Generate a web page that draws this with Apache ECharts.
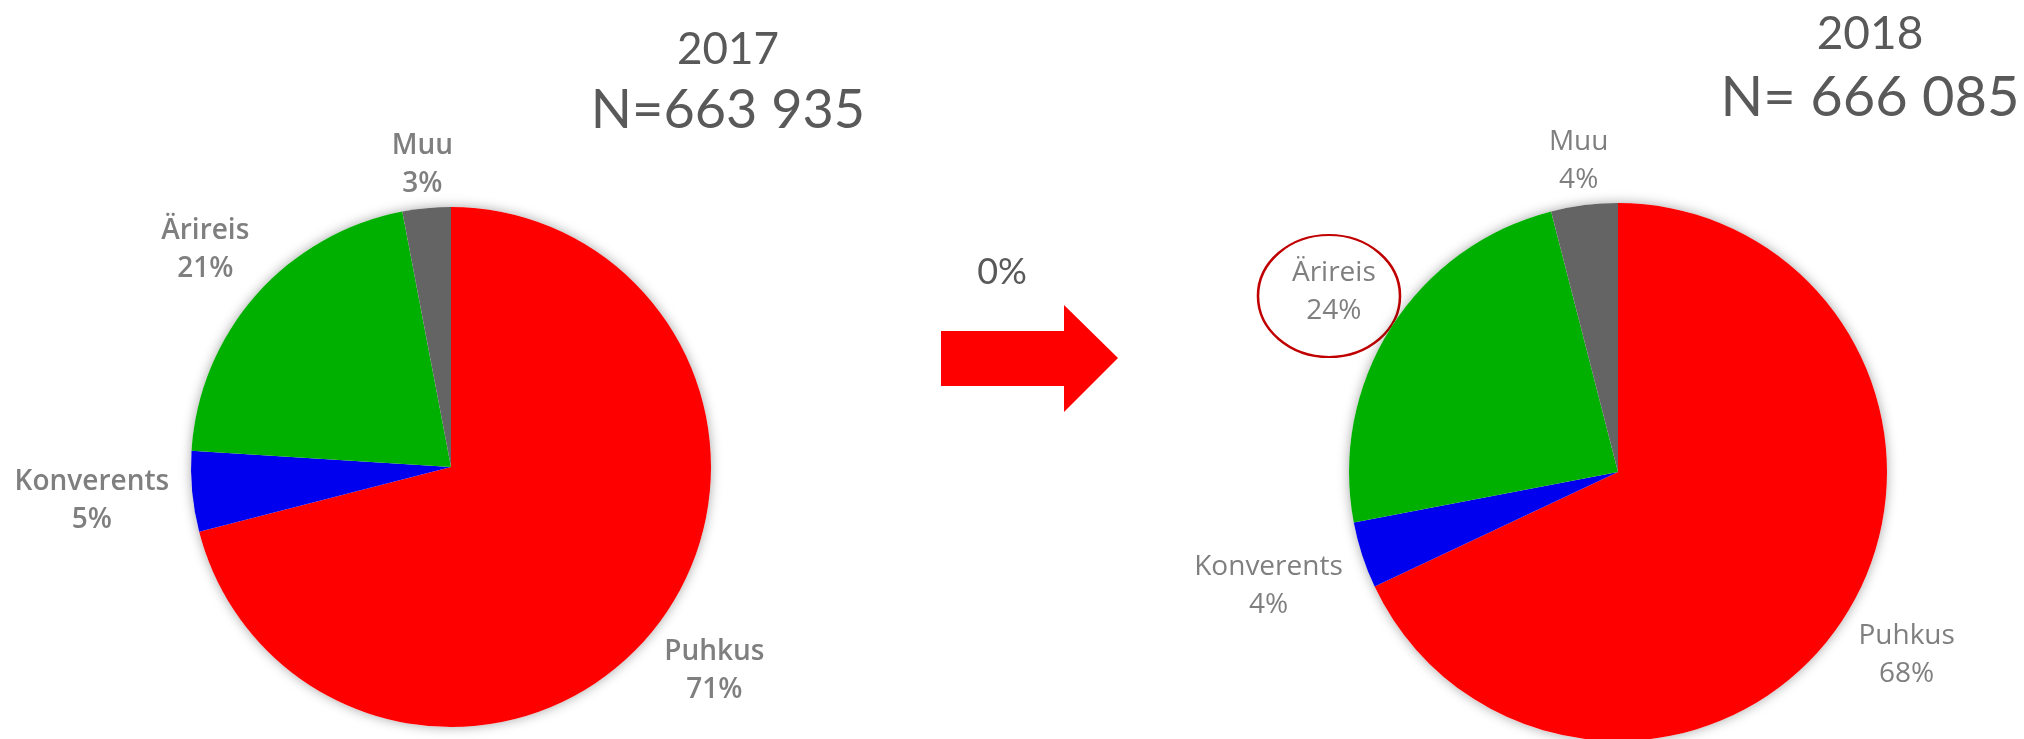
<!DOCTYPE html>
<html>
<head>
<meta charset="utf-8">
<title>Reisi eesmärk 2017 / 2018</title>
<script src="https://cdn.jsdelivr.net/npm/echarts@6/dist/echarts.min.js"></script>
<style>
    html, body { margin: 0; padding: 0; background: #fff; }
    #chart { width: 2024px; height: 739px; }
</style>
</head>
<body>
<div id="chart"></div>
<script>
// andmed
const categories = ['Puhkus', 'Konverents', 'Ärireis', 'Muu'];
const values2017 = [71, 5, 21, 3];
const values2018 = [68, 4, 24, 4];
const colors = ['#ff0000', '#0000ee', '#00b000', '#646464'];
const titles = ['2017', '2018'];
const totals = ['N=663 935', 'N= 666 085'];
const change = '0%';

const pies = [
    {center: [451, 467], radius: 260, weight: 600, values: values2017},
    {center: [1618, 472], radius: 269, weight: 'normal', values: values2018}
];

// sildi keskpunkt sektori keskjoonel, veidi ringist väljas
function placeLabel (p) {
    const pie = pies[Math.floor(p.seriesIndex / 2)];
    if (!pie) return {};
    const vals = pie.values;
    const sum = vals.reduce((a, b) => a + b, 0);
    let before = 0;
    for (let i = 0; i < p.dataIndex; i++) before += vals[i];
    const mid = (before + vals[p.dataIndex] / 2) / sum * Math.PI * 2;
    const ux = Math.sin(mid);
    const uy = -Math.cos(mid);
    const hw = p.labelRect.width / 2;
    const hh = p.labelRect.height / 2 * 0.5;
    const d = pie.radius + 22 + Math.abs(ux) * hw + Math.abs(uy) * hh;
    return {
        x: pie.center[0] + ux * d,
        y: pie.center[1] + uy * d,
        align: 'center',
        verticalAlign: 'middle'
    };
}

const series = [];
pies.forEach((pie) => {
    // vari ringi taga
    series.push({
        type: 'pie',
        silent: true,
        center: pie.center,
        radius: pie.radius,
        z: 1,
        label: {show: false},
        labelLine: {show: false},
        itemStyle: {
            color: '#ffffff',
            shadowBlur: 12,
            shadowColor: 'rgba(0,0,0,0.35)'
        },
        data: [{value: 1}]
    });
    series.push({
        type: 'pie',
        z: 2,
        center: pie.center,
        radius: pie.radius,
        startAngle: 90,
        clockwise: true,
        avoidLabelOverlap: false,
        animation: false,
        label: {
            show: true,
            position: 'outside',
            formatter: '{b}\n{c}%',
            color: '#7f7f7f',
            fontFamily: 'Open Sans',
            fontSize: 28,
            fontWeight: pie.weight,
            lineHeight: 38
        },
        labelLine: {show: false},
        labelLayout: placeLabel,
        itemStyle: {borderWidth: 0},
        data: categories.map((c, i) => ({
            name: c,
            value: pie.values[i],
            itemStyle: {color: colors[i]}
        }))
    });
});

const titleFont = 'Lato, "Open Sans", sans-serif';
const myChart = echarts.init(document.getElementById('chart'));
myChart.setOption({
    animation: false,
    series: series,
    graphic: [
        {type: 'text', x: 728, y: 50, style: {text: titles[0], font: '44px ' + titleFont, fill: '#595959', align: 'center', verticalAlign: 'middle'}},
        {type: 'text', x: 728, y: 111, style: {text: totals[0], font: '54px ' + titleFont, fill: '#595959', align: 'center', verticalAlign: 'middle'}},
        {type: 'text', x: 1870, y: 34, style: {text: titles[1], font: '46px ' + titleFont, fill: '#595959', align: 'center', verticalAlign: 'middle'}},
        {type: 'text', x: 1870, y: 98, style: {text: totals[1], font: '56px ' + titleFont, fill: '#595959', align: 'center', verticalAlign: 'middle'}},
        {type: 'text', x: 1002, y: 272, style: {text: change, font: '36px ' + titleFont, fill: '#595959', align: 'center', verticalAlign: 'middle'}},
        {
            type: 'polygon',
            shape: {points: [[941, 331], [1064, 331], [1064, 305], [1118, 358], [1064, 412], [1064, 386], [941, 386]]},
            style: {fill: '#ff0000'}
        },
        {
            type: 'circle',
            x: 1329,
            y: 296,
            scaleX: 71 / 61,
            shape: {cx: 0, cy: 0, r: 61},
            style: {fill: 'none', stroke: '#c00000', lineWidth: 2.2}
        }
    ]
});
</script>
</body>
</html>
